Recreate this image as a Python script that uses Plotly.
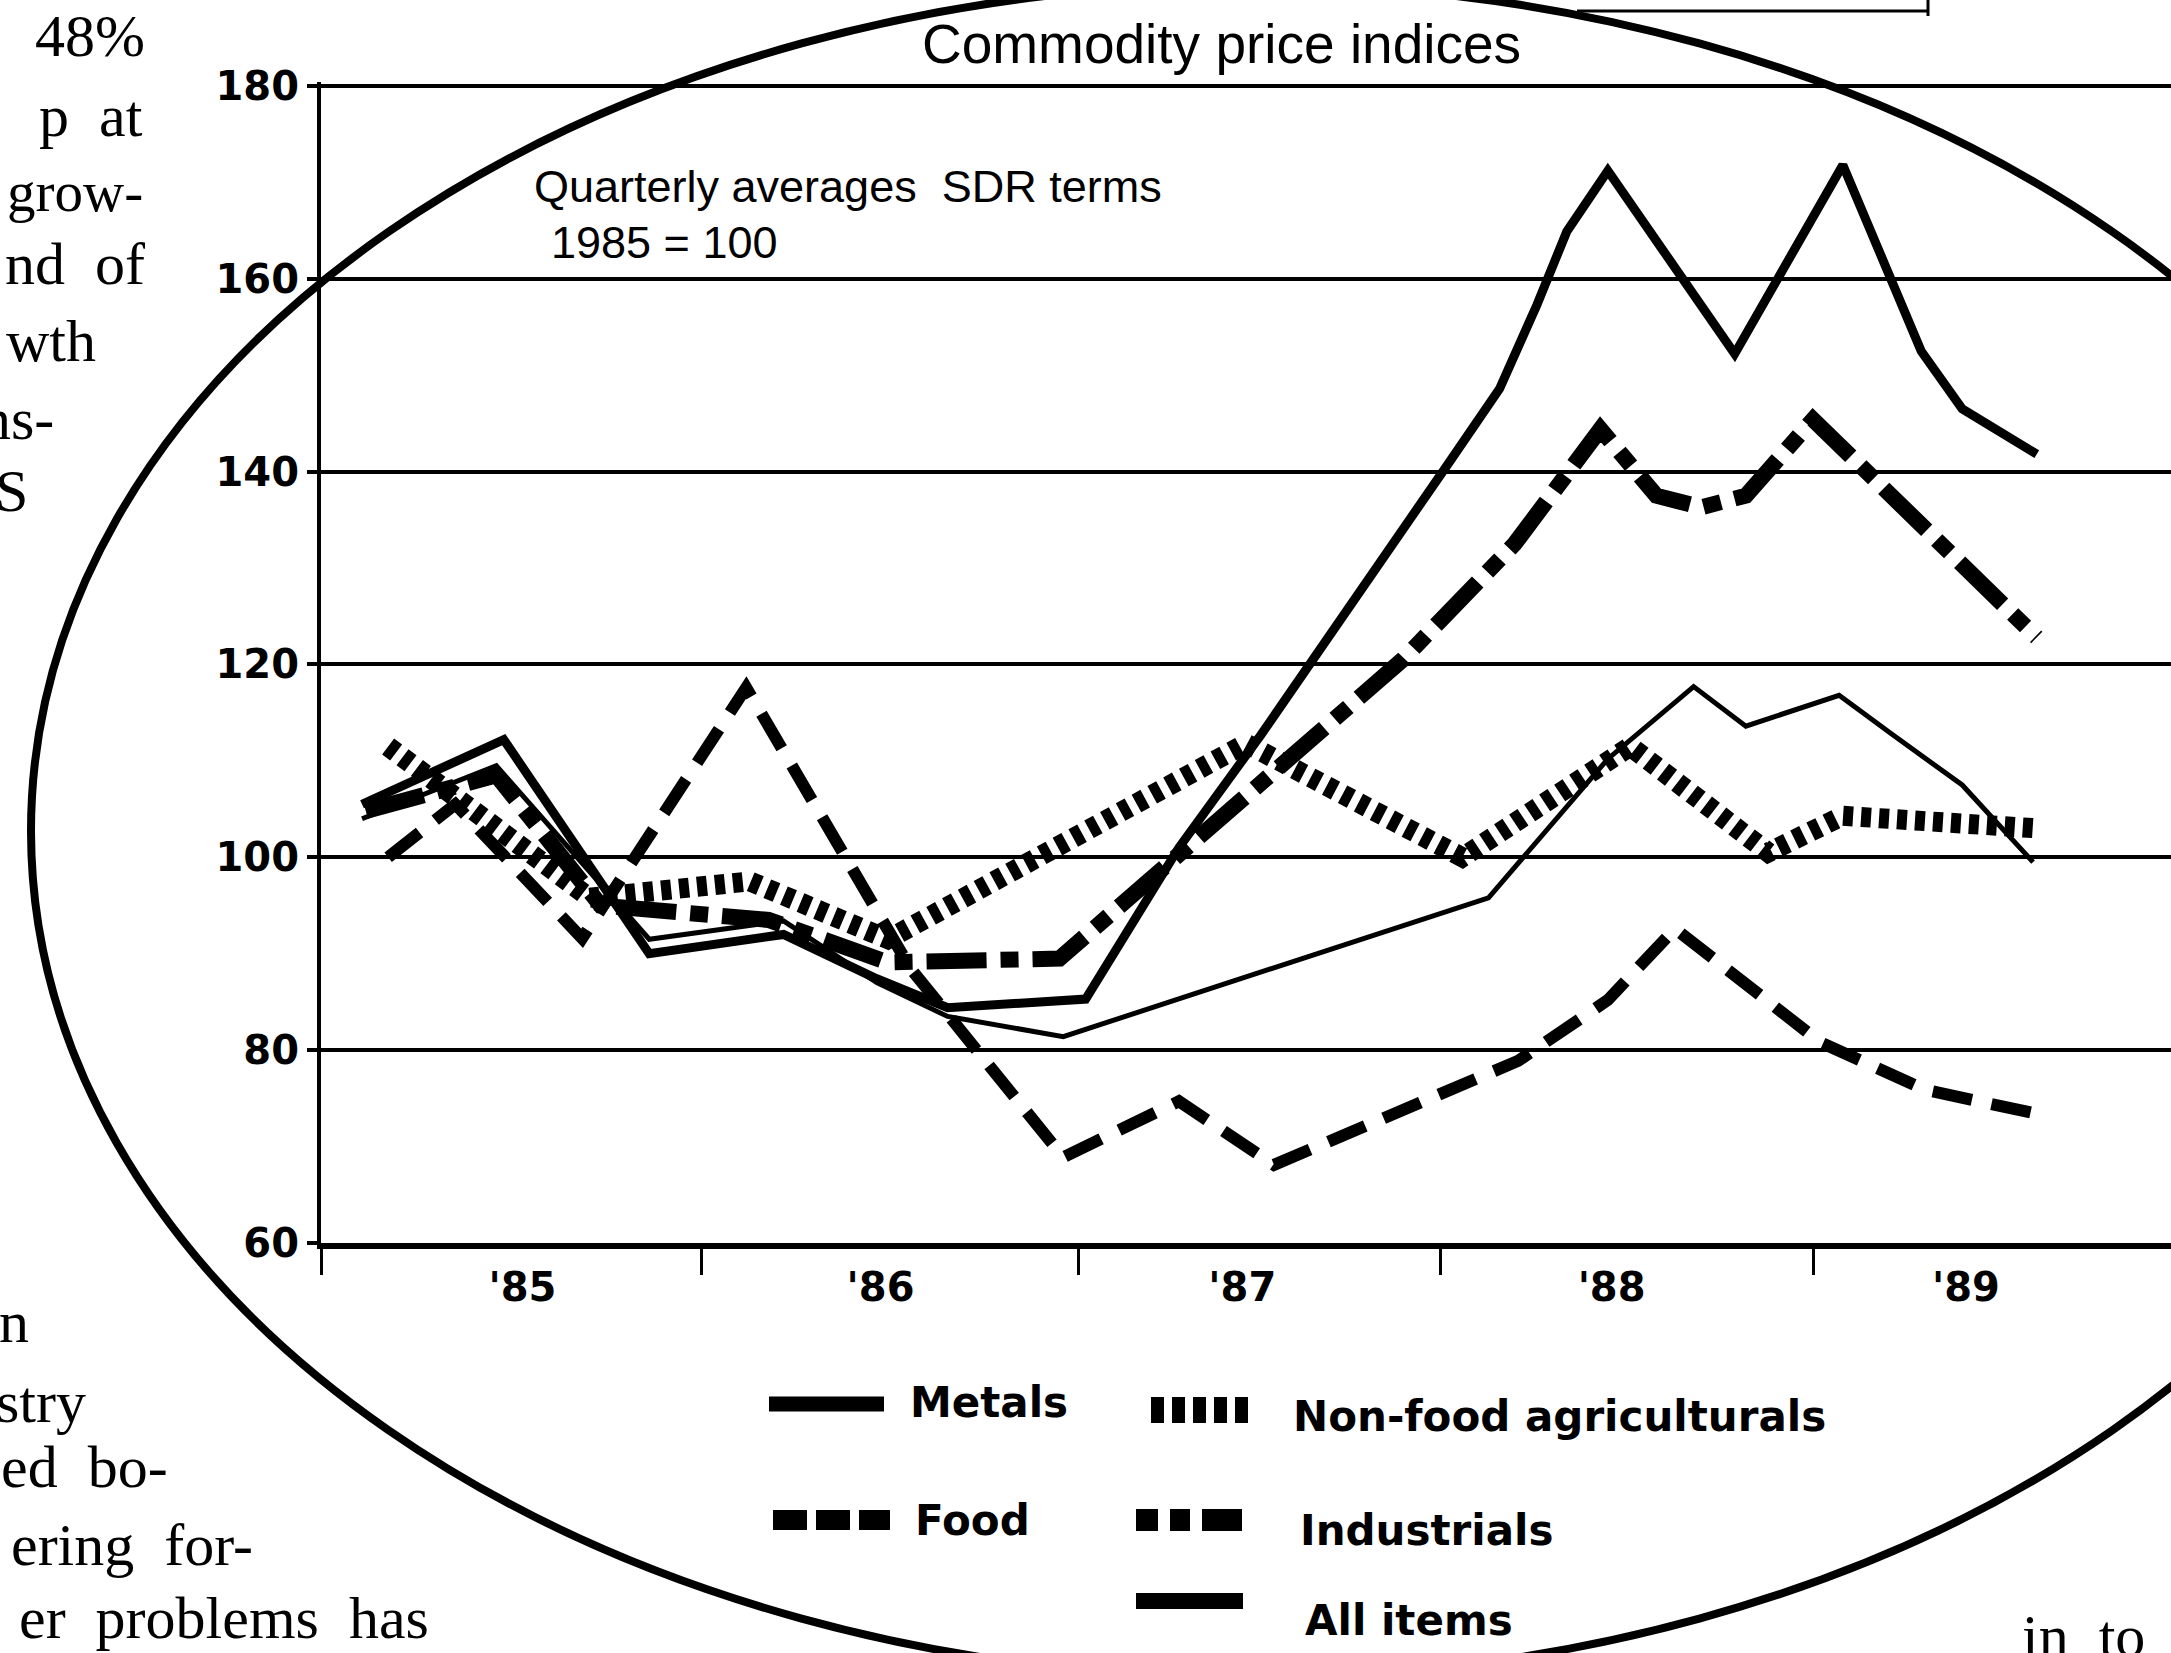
import plotly.graph_objects as go

# ---------------- data (decimal years; quarterly averages, SDR terms, 1985 = 100) ----------------
metals_x = [1985.11, 1985.49, 1985.88, 1986.24, 1986.49, 1986.68, 1987.05, 1987.30,
            1987.52, 1987.89, 1988.02, 1988.16, 1988.26, 1988.34, 1988.45, 1988.79,
            1989.08, 1989.29, 1989.40, 1989.60]
metals_y = [105.5, 112.2, 90.0, 92.0, 87.4, 84.4, 85.3, 101.0,
            112.7, 133.2, 140.7, 148.6, 157.3, 164.9, 171.2, 152.2,
            171.8, 152.5, 146.5, 141.8]

food_x = [1985.18, 1985.36, 1985.70, 1986.14, 1986.58, 1986.99, 1987.30, 1987.555,
          1988.21, 1988.45, 1988.63, 1989.02, 1989.30, 1989.60]
food_y = [100.0, 105.5, 91.6, 117.6, 88.5, 68.9, 74.7, 68.1,
          78.9, 85.2, 92.6, 80.8, 75.9, 73.4]

nonfood_x = [1985.18, 1985.72, 1986.15, 1986.52, 1987.48, 1988.06, 1988.51, 1988.88,
             1989.08, 1989.60]
nonfood_y = [111.5, 95.8, 97.5, 91.5, 111.8, 100.0, 111.5, 100.5,
             104.3, 103.0]

industrials_x = [1985.12, 1985.47, 1985.75, 1986.20, 1986.52, 1986.98, 1987.90, 1988.20,
                 1988.43, 1988.58, 1988.70, 1988.82, 1989.00, 1989.60]
industrials_y = [104.8, 108.5, 95.0, 93.5, 89.1, 89.5, 120.5, 132.5,
                 144.4, 137.5, 136.3, 137.5, 145.4, 122.8]

allitems_x = [1985.11, 1985.47, 1985.88, 1986.24, 1986.49, 1986.68, 1986.99, 1988.13,
              1988.45, 1988.68, 1988.82, 1989.07, 1989.21, 1989.40, 1989.59]
allitems_y = [104.0, 109.5, 91.5, 93.4, 87.0, 83.5, 81.4, 95.8,
              110.2, 117.7, 113.6, 116.8, 112.8, 107.5, 99.5]

year_labels = ["'85", "'86", "'87", "'88", "'89"]
year_label_pos = [1985.54, 1986.50, 1987.47, 1988.46, 1989.41]
year_tick_pos = [1985.0, 1986.02, 1987.03, 1988.0, 1989.0]
y_ticks = [60, 80, 100, 120, 140, 160, 180]

# ---------------- geometry helpers (page pixels -> paper coords) ----------------
W, H = 2171, 1653
ML, MR, MT, MB = 321, 0, 82, 410
PW, PH = W - ML - MR, H - MT - MB


def px(X):
    return (X - ML) / PW


def py(Y):
    return (H - MB - Y) / PH


BOLD = "DejaVu Sans"
fig = go.Figure()


def series(x, y, name, width, dash):
    fig.add_trace(go.Scatter(x=x, y=y, mode="lines", name=name, showlegend=False,
                             line=dict(color="black", width=width, dash=dash)))


series(food_x, food_y, "Food", 12, "40px,20px")
series(nonfood_x, nonfood_y, "Non-food agriculturals", 20, "10px,8px")
series(industrials_x, industrials_y, "Industrials", 16, "60px,14px,18px,14px")
series(allitems_x, allitems_y, "All items", 5, "solid")
series(metals_x, metals_y, "Metals", 9, "solid")

fig.update_xaxes(range=[1985, 1985 + PW / 373.0], showgrid=False, zeroline=False,
                 showline=True, linecolor="black", linewidth=6,
                 tickmode="array", tickvals=year_label_pos, ticktext=year_labels,
                 ticks="", ticklabelstandoff=4,
                 tickfont=dict(family=BOLD, size=40, color="black", weight="bold"),
                 minor=dict(tickmode="array", tickvals=year_tick_pos, ticks="outside",
                            ticklen=26, tickwidth=3, tickcolor="black", showgrid=False))
fig.update_yaxes(range=[60, 180.4], showgrid=True, gridcolor="black", gridwidth=4,
                 zeroline=False, showline=True, linecolor="black", linewidth=4,
                 tickmode="array", tickvals=y_ticks, ticks="outside", ticklen=10,
                 tickwidth=4, tickcolor="black",
                 tickfont=dict(family=BOLD, size=40, color="black", weight="bold"))


def txt(text, X, Y, size, family="Liberation Sans", anchor="left", weight="normal"):
    fig.add_annotation(text=text, x=px(X), y=py(Y), xref="paper", yref="paper",
                       xanchor=anchor, yanchor="middle", showarrow=False,
                       font=dict(family=family, size=size, color="black", weight=weight))


# titles inside the chart
txt("Commodity price indices", 1221, 44, 55, anchor="center")
txt("Quarterly averages  SDR terms", 532, 187, 45)
txt("1985 = 100", 549, 243, 45)


# legend (keys drawn as shapes, labels as text)
def key(X0, X1, Y, width, dash):
    fig.add_shape(type="line", xref="paper", yref="paper", x0=px(X0), x1=px(X1),
                  y0=py(Y), y1=py(Y), line=dict(color="black", width=width, dash=dash))


key(769, 884, 1404, 15, "solid")
key(773, 890, 1520, 20, "34px,9px")
key(1151, 1255, 1410, 26, "13px,8px")
key(1136, 1243, 1520, 22, "22px,12px,20px,12px,40px,1px")
key(1136, 1243, 1601, 16, "solid")
txt("Metals", 908, 1402, 42, BOLD, weight="bold")
txt("Food", 913, 1520, 42, BOLD, weight="bold")
txt("Non-food agriculturals", 1291, 1416, 42, BOLD, weight="bold")
txt("Industrials", 1298, 1530, 42, BOLD, weight="bold")
txt("All items", 1303, 1620, 42, BOLD, weight="bold")

# the hand-drawn oval round the chart
fig.add_shape(type="circle", xref="paper", yref="paper", x0=px(31), x1=px(2470),
              y0=py(1678), y1=py(-16), line=dict(color="black", width=8))

# fragment of a box edge at the top of the page
fig.add_shape(type="line", xref="paper", yref="paper", x0=px(1577), x1=px(1928),
              y0=py(11), y1=py(11), line=dict(color="black", width=3))
fig.add_shape(type="line", xref="paper", yref="paper", x0=px(1928), x1=px(1928),
              y0=py(0), y1=py(16), line=dict(color="black", width=3))

# fragments of the surrounding page text (cut by the page edge, as in the scan)
SERIF = "Liberation Serif"
for t, X, Y, s in [("48%", 147, 36, 60), ("p  at", 145, 116, 60), ("grow-", 145, 191, 57),
                   ("nd  of", 147, 264, 60), ("wth", 98, 341, 60), ("ns-", 56, 419, 60),
                   ("S", 30, 491, 60)]:
    txt(t, X, Y, s, SERIF, anchor="right")
for t, X, Y, s in [("n", 31, 1322, 60), ("stry", 88, 1402, 60), ("ed  bo-", 170, 1467, 60),
                   ("ering  for-", 255, 1545, 60), ("er  problems  has", 431, 1618, 60),
                   ("in  to", 2147, 1636, 60)]:
    txt(t, X, Y, s, SERIF, anchor="right")

fig.update_layout(width=W, height=H, margin=dict(l=ML, r=MR, t=MT, b=MB, pad=0),
                  paper_bgcolor="white", plot_bgcolor="white", showlegend=False)

fig.write_html("out.html", config={"displayModeBar": False},
               post_script="document.body.style.margin='0';")
